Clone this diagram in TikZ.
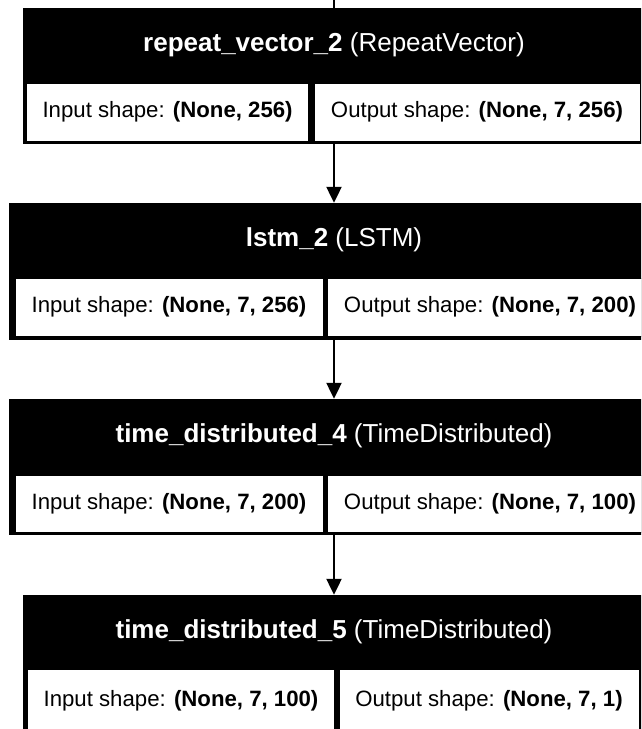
\documentclass[tikz,border=0pt]{standalone}
\usepackage{fontspec}
\setmainfont{Liberation Sans}
\usepackage{tikz}
\usetikzlibrary{positioning,arrows.meta}

\begin{document}
\begin{tikzpicture}[
    x=1pt, y=-1pt,
    layerbox/.style={%
      fill=black,
      inner sep=0pt,
      minimum height=136pt,
    },
    layertitle/.style={%
      text=white,
      inner sep=0pt,
      font=\fontsize{26}{30}\selectfont,
    },
    shapecell/.style={%
      draw=black,
      fill=white,
      line width=0.8pt,
      minimum height=58pt,
      inner sep=0pt,
      font=\fontsize{22.2}{26}\selectfont,
    },
    link/.style={%
      line width=2.2pt,
      -{Triangle[length=16pt,width=15pt]},
    },
  ]

    \useasboundingbox (0,0) rectangle (641,729);
    \fill[white] (0,0) rectangle (641,729);
    \clip (0,0) rectangle (641,729);

    \node [layerbox, minimum width=623pt] (rv) at (334,76) {};
    \node [layertitle] (rvtitle) at (334,45) {\textbf{repeat\_vector\_2} (RepeatVector)};
    \node [shapecell, minimum width=282pt] (rvin) at (167.6,112) {Input shape: \textbf{(None, 256)}};
    \node [shapecell, minimum width=326pt] (rvout) at (477,112) {Output shape: \textbf{(None, 7, 256)}};

    \node [layerbox, minimum width=650pt, minimum height=137pt] (ls) at (334,271.5) {};
    \node [layertitle] (lstitle) at (334,240) {\textbf{lstm\_2} (LSTM)};
    \node [shapecell, minimum width=308pt] (lsin) at (169,307) {Input shape: \textbf{(None, 7, 256)}};
    \node [shapecell, minimum width=326pt] (lsout) at (490,307) {Output shape: \textbf{(None, 7, 200)}};

    \node [layerbox, minimum width=650pt] (tdfour) at (334,467) {};
    \node [layertitle] (tdfourtitle) at (334,436) {\textbf{time\_distributed\_4} (TimeDistributed)};
    \node [shapecell, minimum width=308pt, minimum height=57pt] (tdfourin) at (169,503.5) {Input shape: \textbf{(None, 7, 200)}};
    \node [shapecell, minimum width=326pt, minimum height=57pt] (tdfourout) at (490,503.5) {Output shape: \textbf{(None, 7, 100)}};

    \node [layerbox, minimum width=623pt, minimum height=144pt] (tdfive) at (334,667) {};
    \node [layertitle] (tdfivetitle) at (334,631.5) {\textbf{time\_distributed\_5} (TimeDistributed)};
    \node [shapecell, minimum width=307pt, minimum height=64pt] (tdfivein) at (181,701) {Input shape: \textbf{(None, 7, 100)}};
    \node [shapecell, minimum width=300pt, minimum height=64pt] (tdfiveout) at (489,701) {Output shape: \textbf{(None, 7, 1)}};

    \coordinate (rvsrc) at (334,-10);

    \draw [line width=2.2pt] (rvsrc) -- (rv);
    \draw [link] (rv) -- (ls);
    \draw [link] (ls) -- (tdfour);
    \draw [link] (tdfour) -- (tdfive);

\end{tikzpicture}
\end{document}
